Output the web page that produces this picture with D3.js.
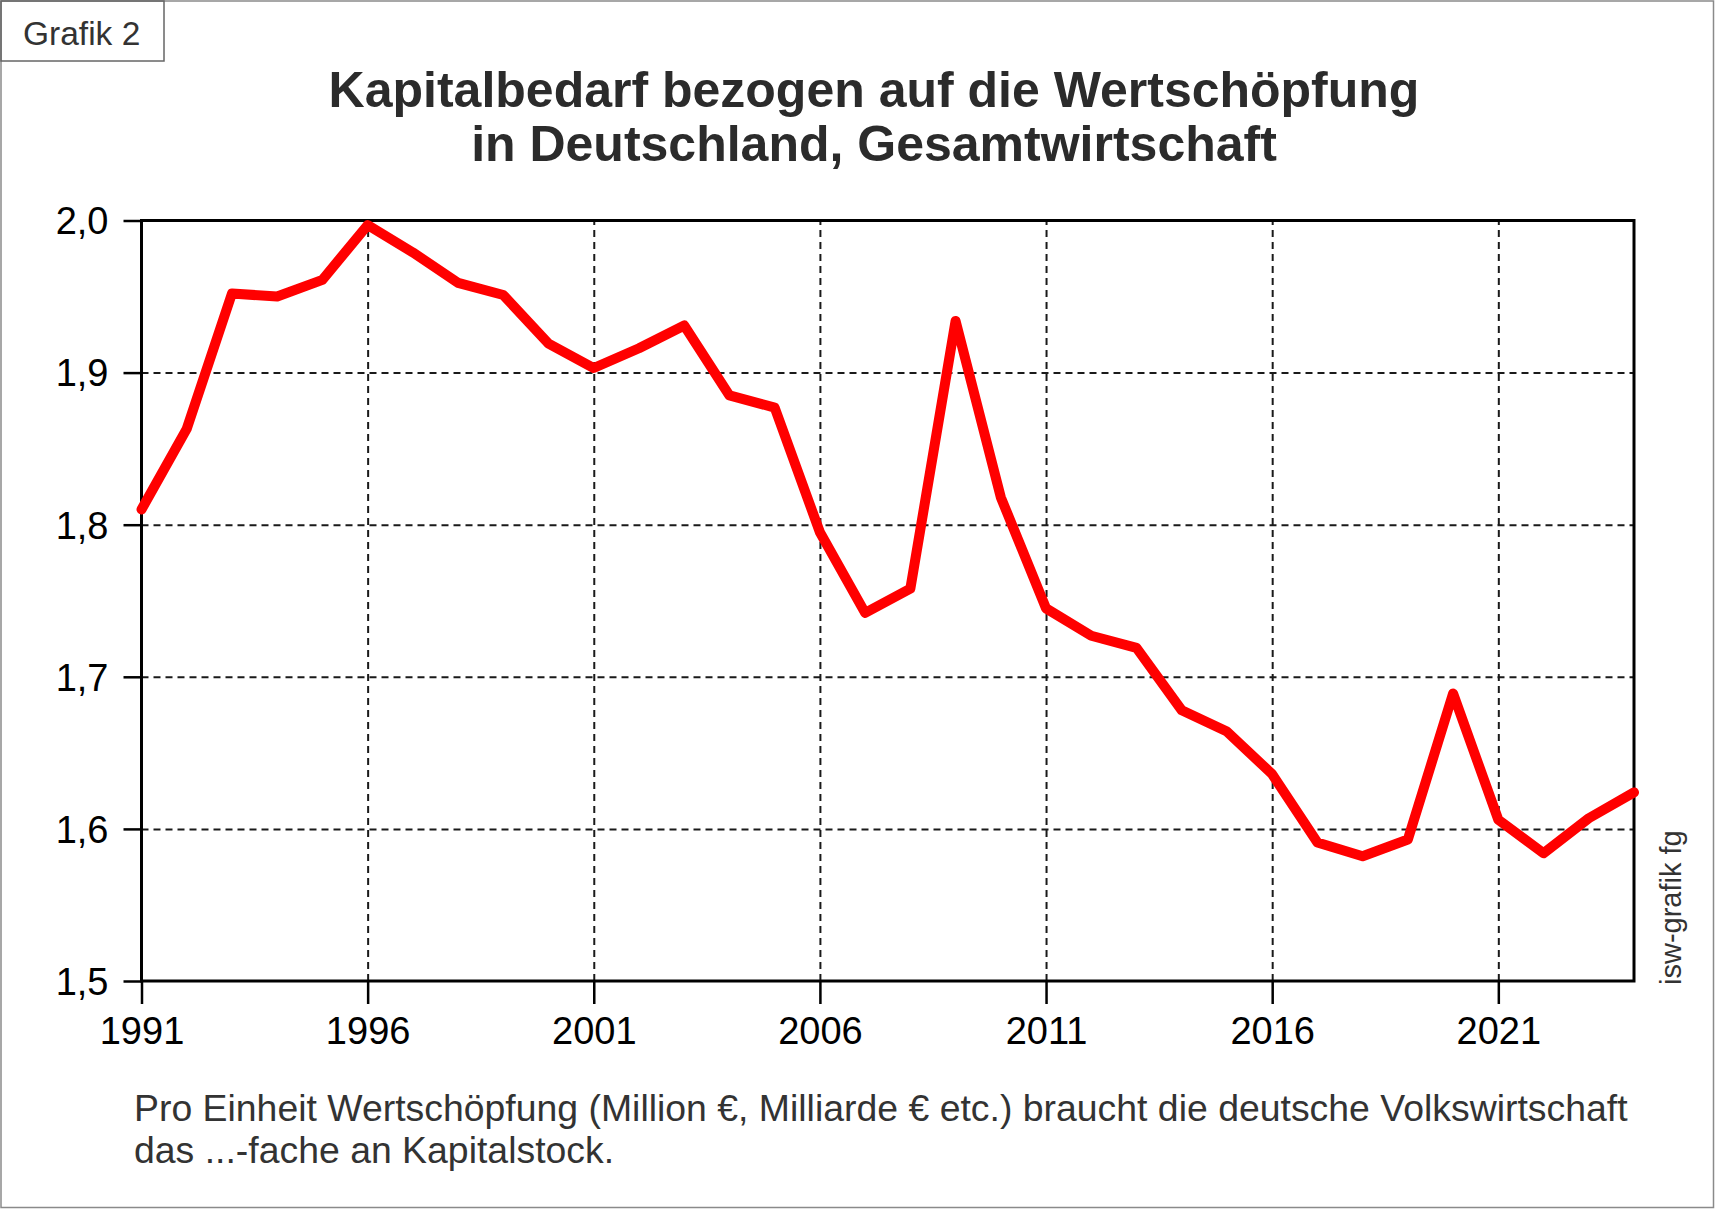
<!DOCTYPE html>
<html>
<head>
<meta charset="utf-8">
<script src="https://cdn.jsdelivr.net/npm/d3@7"></script>
<style>
  body { margin: 0; background: #fff; }
  svg text { font-family: "Liberation Sans", Arial, sans-serif; }
  .axis .domain { display: none; }
  .grid line { stroke: #1a1a1a; stroke-width: 2; stroke-dasharray: 7,5; }
  .grid .domain, .grid text { display: none; }
</style>
</head>
<body>
<div id="chart"></div>
<script>
/* DATA */
const years = [1991, 1992, 1993, 1994, 1995, 1996, 1997, 1998, 1999, 2000,
  2001, 2002, 2003, 2004, 2005, 2006, 2007, 2008, 2009, 2010,
  2011, 2012, 2013, 2014, 2015, 2016, 2017, 2018, 2019, 2020,
  2021, 2022, 2023, 2024];
const ratio = [1.810, 1.863, 1.952, 1.950, 1.961, 1.997, 1.979, 1.959, 1.951, 1.919,
  1.903, 1.916, 1.931, 1.885, 1.877, 1.795, 1.742, 1.758, 1.934, 1.818,
  1.745, 1.727, 1.719, 1.678, 1.664, 1.636, 1.591, 1.582, 1.593, 1.689,
  1.606, 1.584, 1.607, 1.624];
const xTicks = [1991, 1996, 2001, 2006, 2011, 2016, 2021];
const yTicks = [1.5, 1.6, 1.7, 1.8, 1.9, 2.0];
const titleLines = ["Kapitalbedarf bezogen auf die Wertschöpfung", "in Deutschland, Gesamtwirtschaft"];
const noteLines = ["Pro Einheit Wertschöpfung (Million €, Milliarde € etc.) braucht die deutsche Volkswirtschaft",
  "das ...-fache an Kapitalstock."];

/* CONSTANTS */
const width = 1715, height = 1209;
const margin = { top: 220.5, bottom: 228, left: 141.5, right: 81 };

const data = years.map((y, i) => ({ year: y, value: ratio[i] }));

const svg = d3.select("#chart").append("svg")
  .attr("width", width)
  .attr("height", height);

// outer frame
svg.append("rect")
  .attr("x", 1).attr("y", 1)
  .attr("width", width - 2.5).attr("height", height - 2.5)
  .attr("fill", "none").attr("stroke", "#8a8a8a").attr("stroke-width", 1.5);

// "Grafik 2" box
svg.append("rect")
  .attr("x", 1).attr("y", 1)
  .attr("width", 163).attr("height", 60)
  .attr("fill", "none").attr("stroke", "#666").attr("stroke-width", 1.5);
svg.append("text")
  .attr("x", 23).attr("y", 45)
  .attr("font-size", 33.5).attr("fill", "#333")
  .text("Grafik 2");

// title
svg.append("g").selectAll("text")
  .data(titleLines)
  .join("text")
  .attr("x", 874)
  .attr("y", (d, i) => 107 + i * 54)
  .attr("text-anchor", "middle")
  .attr("font-size", 50).attr("font-weight", "bold").attr("fill", "#2b2b2b")
  .text(d => d);

/* SCALES */
const xScale = d3.scaleLinear()
  .domain([1991, 2024])
  .range([margin.left, width - margin.right]);

const yScale = d3.scaleLinear()
  .domain([1.5, 2.0])
  .range([height - margin.bottom, margin.top]);

const plotW = xScale.range()[1] - xScale.range()[0];
const plotH = yScale.range()[0] - yScale.range()[1];

// grid
svg.append("g")
  .attr("class", "grid")
  .attr("transform", `translate(0,${height - margin.bottom})`)
  .call(d3.axisBottom(xScale).tickValues(xTicks.slice(1)).tickSize(-plotH));

svg.append("g")
  .attr("class", "grid")
  .attr("transform", `translate(${margin.left},0)`)
  .call(d3.axisLeft(yScale).tickValues(yTicks.slice(1, -1)).tickSize(-plotW));

// plot frame
svg.append("rect")
  .attr("x", margin.left).attr("y", margin.top)
  .attr("width", plotW).attr("height", plotH)
  .attr("fill", "none").attr("stroke", "#000").attr("stroke-width", 3);

/* AXES */
const xAxis = svg.append("g")
  .attr("class", "axis x-axis")
  .attr("transform", `translate(0,${height - margin.bottom})`)
  .call(d3.axisBottom(xScale).tickValues(xTicks).tickSize(23).tickPadding(13).tickFormat(d3.format("d")));

const yAxis = svg.append("g")
  .attr("class", "axis y-axis")
  .attr("transform", `translate(${margin.left},0)`)
  .call(d3.axisLeft(yScale).tickValues(yTicks).tickSize(18).tickPadding(15)
    .tickFormat(d => d3.format(".1f")(d).replace(".", ",")));

svg.selectAll(".axis line").attr("stroke", "#000").attr("stroke-width", 2.5);
svg.selectAll(".axis text")
  .attr("font-size", 38)
  .attr("fill", "#000")
  .attr("font-family", "Liberation Sans, Arial, sans-serif");
yAxis.selectAll("text").attr("dy", "0.35em");

/* LINE */
const line = d3.line()
  .x(d => xScale(d.year))
  .y(d => yScale(d.value));

svg.append("path")
  .datum(data)
  .attr("d", line)
  .attr("fill", "none")
  .attr("stroke", "#ff0000")
  .attr("stroke-width", 10)
  .attr("stroke-linejoin", "round")
  .attr("stroke-linecap", "round");

// source credit
svg.append("text")
  .attr("transform", "translate(1681,985) rotate(-90)")
  .attr("font-size", 29).attr("fill", "#333")
  .text("isw-grafik fg");

// footnote
svg.append("g").selectAll("text")
  .data(noteLines)
  .join("text")
  .attr("x", 134)
  .attr("y", (d, i) => 1121 + i * 42)
  .attr("font-size", 37.4).attr("fill", "#333")
  .text(d => d);
</script>
</body>
</html>
